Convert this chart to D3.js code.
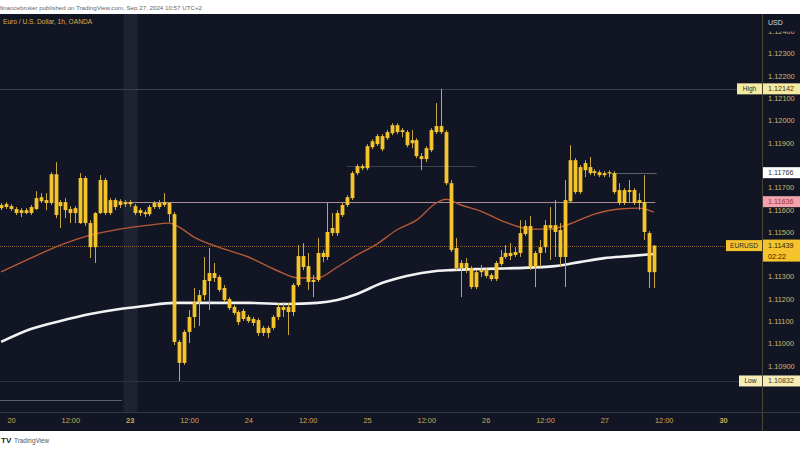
<!DOCTYPE html>
<html><head><meta charset="utf-8">
<script src="https://cdn.jsdelivr.net/npm/d3@7"></script>
<style>body{margin:0;background:#fff;overflow:hidden}svg{display:block;font-family:"Liberation Sans","DejaVu Sans",sans-serif}</style>
</head><body><svg id="c" width="800" height="450"></svg>
<script>
// ---- DATA (EUR/USD 1h, OANDA) ----
const firstBar = -2; // bar index relative to Sep 20 00:00
const opens = [1.11621,1.11612,1.11616,1.11603,1.11585,1.11598,1.11585,1.11603,1.11638,1.11643,1.11630,1.11759,1.11616,1.11634,1.11603,1.11585,1.11540,1.11742,1.11540,1.11432,1.11585,1.11733,1.11585,1.11643,1.11621,1.11634,1.11625,1.11616,1.11585,1.11589,1.11580,1.11612,1.11630,1.11621,1.11630,1.11580,1.11007,1.10913,1.11052,1.11119,1.11186,1.11217,1.11280,1.11316,1.11298,1.11249,1.11199,1.11164,1.11141,1.11110,1.11119,1.11110,1.11105,1.11047,1.11070,1.11070,1.11119,1.11164,1.11141,1.11141,1.11262,1.11392,1.11347,1.11276,1.11285,1.11406,1.11388,1.11495,1.11495,1.11576,1.11621,1.11652,1.11764,1.11795,1.11786,1.11880,1.11894,1.11930,1.11921,1.11943,1.11979,1.11948,1.11948,1.11898,1.11912,1.11840,1.11827,1.11867,1.11948,1.11975,1.11948,1.11719,1.11428,1.11338,1.11361,1.11338,1.11253,1.11320,1.11329,1.11307,1.11289,1.11356,1.11388,1.11392,1.11397,1.11406,1.11491,1.11527,1.11343,1.11406,1.11432,1.11531,1.11500,1.11509,1.11388,1.11638,1.11822,1.11679,1.11777,1.11791,1.11764,1.11768,1.11755,1.11764,1.11764,1.11688,1.11630,1.11688,1.11688,1.11630,1.11634,1.11495,1.11320];
const highs = [1.11630,1.11634,1.11625,1.11612,1.11607,1.11607,1.11621,1.11683,1.11674,1.11674,1.11768,1.11813,1.11643,1.11652,1.11616,1.11616,1.11764,1.11751,1.11553,1.11589,1.11755,1.11742,1.11652,1.11652,1.11647,1.11643,1.11643,1.11625,1.11607,1.11598,1.11621,1.11638,1.11643,1.11674,1.11634,1.11589,1.11016,1.11061,1.11150,1.11249,1.11240,1.11388,1.11428,1.11361,1.11307,1.11262,1.11208,1.11173,1.11150,1.11155,1.11128,1.11119,1.11114,1.11079,1.11079,1.11128,1.11182,1.11186,1.11182,1.11271,1.11441,1.11450,1.11406,1.11307,1.11473,1.11419,1.11630,1.11585,1.11598,1.11630,1.11665,1.11773,1.11804,1.11804,1.11894,1.11916,1.11939,1.11939,1.11957,1.11988,1.11988,1.11966,1.11957,1.11957,1.11921,1.11854,1.11885,1.11966,1.12078,1.12142,1.11957,1.11733,1.11473,1.11374,1.11383,1.11347,1.11329,1.11352,1.11338,1.11316,1.11370,1.11419,1.11441,1.11450,1.11432,1.11553,1.11553,1.11571,1.11415,1.11464,1.11553,1.11612,1.11643,1.11540,1.11733,1.11889,1.11831,1.11800,1.11822,1.11836,1.11782,1.11777,1.11773,1.11777,1.11773,1.11719,1.11697,1.11733,1.11697,1.11674,1.11755,1.11504,1.11441];
const lows = [1.11598,1.11603,1.11594,1.11576,1.11567,1.11580,1.11576,1.11598,1.11630,1.11598,1.11621,1.11562,1.11518,1.11562,1.11540,1.11540,1.11536,1.11527,1.11383,1.11361,1.11580,1.11576,1.11576,1.11598,1.11607,1.11612,1.11612,1.11576,1.11571,1.11567,1.11571,1.11603,1.11603,1.11612,1.11544,1.10993,1.10832,1.10904,1.11002,1.11070,1.11079,1.11195,1.11150,1.11276,1.11231,1.11186,1.11150,1.11128,1.11083,1.11101,1.11092,1.11079,1.11034,1.11034,1.11025,1.11061,1.11105,1.11119,1.11038,1.11123,1.11253,1.11329,1.11240,1.11208,1.11276,1.11365,1.11374,1.11482,1.11482,1.11567,1.11612,1.11643,1.11755,1.11777,1.11777,1.11871,1.11885,1.11862,1.11912,1.11934,1.11939,1.11925,1.11880,1.11876,1.11831,1.11777,1.11813,1.11858,1.11939,1.11939,1.11710,1.11410,1.11329,1.11208,1.11316,1.11244,1.11244,1.11298,1.11294,1.11280,1.11280,1.11347,1.11379,1.11374,1.11388,1.11388,1.11482,1.11329,1.11253,1.11343,1.11406,1.11374,1.11388,1.11343,1.11253,1.11630,1.11670,1.11670,1.11746,1.11755,1.11751,1.11746,1.11746,1.11746,1.11670,1.11621,1.11621,1.11630,1.11621,1.11598,1.11464,1.11249,1.11249];
const closes = [1.11607,1.11625,1.11603,1.11585,1.11598,1.11585,1.11612,1.11652,1.11656,1.11630,1.11759,1.11576,1.11634,1.11598,1.11585,1.11607,1.11742,1.11540,1.11432,1.11585,1.11733,1.11585,1.11643,1.11612,1.11638,1.11625,1.11634,1.11585,1.11598,1.11580,1.11612,1.11630,1.11612,1.11634,1.11580,1.11007,1.10913,1.11052,1.11119,1.11186,1.11217,1.11285,1.11316,1.11294,1.11240,1.11195,1.11159,1.11137,1.11096,1.11146,1.11101,1.11092,1.11047,1.11070,1.11047,1.11119,1.11164,1.11150,1.11164,1.11262,1.11392,1.11343,1.11276,1.11285,1.11406,1.11388,1.11500,1.11518,1.11585,1.11621,1.11656,1.11764,1.11795,1.11786,1.11885,1.11907,1.11930,1.11871,1.11948,1.11979,1.11948,1.11957,1.11889,1.11912,1.11840,1.11827,1.11876,1.11957,1.11975,1.11948,1.11719,1.11419,1.11338,1.11361,1.11338,1.11253,1.11320,1.11329,1.11303,1.11289,1.11361,1.11388,1.11406,1.11406,1.11410,1.11495,1.11527,1.11343,1.11406,1.11432,1.11531,1.11518,1.11531,1.11388,1.11643,1.11822,1.11679,1.11791,1.11809,1.11764,1.11773,1.11755,1.11764,1.11768,1.11679,1.11630,1.11688,1.11679,1.11630,1.11643,1.11500,1.11320,1.11439];

// slow moving average (white), sampled at bar indices
const maSlowBars = [-2,4,10,16,22,27,33,40,48,56,62,66,70,75,80,86,89,95,102,110,115,120,125,130];
const maSlow = [1.11007,1.11065,1.11101,1.11132,1.11155,1.11168,1.11182,1.11182,1.11182,1.11177,1.11182,1.11195,1.11222,1.11271,1.11303,1.11325,1.11329,1.11334,1.11338,1.11347,1.11365,1.11383,1.11392,1.11401];
// fast moving average (orange)
const maFastBars = [-2,4,10,16,22,28,32,34,37,42,48,54,58,62,66,70,74,78,82,86,88,91,95,100,105,109,113,118,123,127,130];
const maFast = [1.11321,1.11383,1.11441,1.11486,1.11513,1.11531,1.11540,1.11522,1.11477,1.11432,1.11388,1.11325,1.11294,1.11294,1.11343,1.11397,1.11446,1.11509,1.11553,1.11630,1.11647,1.11621,1.11594,1.11544,1.11513,1.11513,1.11536,1.11580,1.11603,1.11607,1.11589];

const timeTicks = [0,12,24,36,48,60,72,84,96,108,120,132,144];
const timeLabels = ["20","12:00","23","12:00","24","12:00","25","12:00","26","12:00","27","12:00","30"];
const boldLabels = ["23","30"];
// price scale labels visible next to the tags
const priceTicks = [1.109,1.110,1.111,1.112,1.113,1.115,1.116,1.117,1.119,1.120,1.121,1.122,1.123,1.124];

const lastPrice = 1.11439, highPrice = 1.12142, lowPrice = 1.10832;
const levelWhite = 1.11766, levelPink = 1.11636, levelGray = 1.11795, levelBase = 1.10747;

// ---- DRAW ----
const svg = d3.select("#c");
const PL = 0, PR = 762, PT = 14, PB = 412;
const x = d3.scaleLinear().domain([0,144]).range([11,723]);
const y = d3.scaleLinear().domain([1.115,1.123]).range([232,53.6]);
const bg = "#121624";

svg.append("rect").attr("width",800).attr("height",450).attr("fill","#fff");
svg.append("text").attr("x",0).attr("y",9.5).attr("font-size",6.2).attr("fill","#666")
  .text("financebroker published on TradingView.com, Sep 27, 2024 10:57 UTC+2");
svg.append("rect").attr("x",0).attr("y",PT).attr("width",800).attr("height",431-PT).attr("fill",bg);

const defs = svg.append("defs");
defs.append("clipPath").attr("id","pc").append("rect").attr("x",PL).attr("y",PT).attr("width",PR-PL).attr("height",PB-PT);
const g = svg.append("g").attr("clip-path","url(#pc)");

// highlighted column
g.append("rect").attr("x",x(22.75)).attr("y",PT).attr("width",x(25.6)-x(22.75)).attr("height",PB-PT).attr("fill","#1e2332");

// horizontal levels
const hl = (p, i0, i1, col, w, dash, op) => g.append("line")
  .attr("x1", i0===null?PL:x(i0)).attr("x2", i1===null?PR:x(i1))
  .attr("y1", Math.round(y(p))+0.5).attr("y2", Math.round(y(p))+0.5)
  .attr("stroke",col).attr("stroke-width",w).attr("stroke-dasharray",dash||null).attr("opacity",op||1);
hl(highPrice, null, null, "#3b404d", 1);
hl(lowPrice, null, null, "#2c313d", 1);
hl(levelBase, -3, 22.4, "#5d616c", 1);
hl(levelGray, 68, 94, "#3e4350", 1);
hl(lastPrice, null, null, "#a5702c", 1, "1,1", 0.8);
hl(levelPink, 23.5, 130.3, "#a88d95", 1);
hl(levelWhite, 121, 130.6, "#5d616c", 1);

// moving averages
const line = d3.line().x(d=>x(d[0])).y(d=>y(d[1])).curve(d3.curveMonotoneX);
g.append("path").attr("d", line(maFastBars.map((b,i)=>[b,maFast[i]])))
  .attr("fill","none").attr("stroke","#b55a35").attr("stroke-width",1.4);
g.append("path").attr("d", line(maSlowBars.map((b,i)=>[b,maSlow[i]])))
  .attr("fill","none").attr("stroke","#f2f2f2").attr("stroke-width",2.6);

// candles
const candles = opens.map((o,i)=>({i:firstBar+i,o,h:highs[i],l:lows[i],c:closes[i]}));
const cg = g.append("g");
cg.selectAll("line.w").data(candles).join("line").attr("class","w")
  .attr("x1",d=>Math.round(x(d.i))+0.5).attr("x2",d=>Math.round(x(d.i))+0.5)
  .attr("y1",d=>y(d.h)).attr("y2",d=>y(d.l)).attr("stroke","#c7a640").attr("stroke-width",1);
cg.selectAll("rect.b").data(candles).join("rect").attr("class","b")
  .attr("x",d=>Math.round(x(d.i))+0.5-1.9).attr("width",3.8)
  .attr("y",d=>y(Math.max(d.o,d.c)))
  .attr("height",d=>Math.max(1.2, y(Math.min(d.o,d.c))-y(Math.max(d.o,d.c))))
  .attr("fill","#f5c42c");

// title
svg.append("text").attr("x",3).attr("y",24).attr("font-size",6.6).attr("fill","#d8b04a")
  .text("Euro / U.S. Dollar, 1h, OANDA");

// axes frame
svg.append("line").attr("x1",PR+0.5).attr("x2",PR+0.5).attr("y1",PT).attr("y2",431).attr("stroke","#4a4538");
svg.append("line").attr("x1",0).attr("x2",800).attr("y1",PB+0.5).attr("y2",PB+0.5).attr("stroke","#343845");

// price axis
const ya = svg.append("g").attr("transform",`translate(${PR},0)`)
  .call(d3.axisRight(y).tickValues(priceTicks).tickFormat(d3.format(".5f")).tickSize(0).tickPadding(6));
ya.select(".domain").remove();
ya.selectAll("text").attr("font-size",7.4).attr("fill","#d0b66c").attr("font-family","Liberation Sans, sans-serif");
// USD header
svg.append("rect").attr("x",PR+1).attr("y",PT).attr("width",800-PR-1).attr("height",17.5).attr("fill",bg);
svg.append("text").attr("x",768).attr("y",24.5).attr("font-size",7).attr("fill","#d9d9d9").text("USD");

// time axis
const xa = svg.append("g").attr("transform",`translate(0,${PB})`)
  .call(d3.axisBottom(x).tickValues(timeTicks).tickFormat((d,i)=>timeLabels[i]).tickSize(0).tickPadding(6));
xa.select(".domain").remove();
xa.selectAll("text").attr("font-size",7.4).attr("fill","#cca854")
  .attr("font-weight",(d,i)=>boldLabels.includes(timeLabels[i])?"bold":"normal");

// price labels
function tag(p, txt, bgc, fg, name, nameBg, nameW, extra){
  const cy = y(p);
  const h = extra?22:11, top = extra? cy-6 : cy-5.5;
  if(name){
    svg.append("rect").attr("x",PR-nameW).attr("y",cy-5.5).attr("width",nameW).attr("height",11).attr("fill",nameBg);
    svg.append("text").attr("x",PR-nameW/2).attr("y",cy+2.5).attr("text-anchor","middle").attr("font-size",6.6).attr("fill","#2a2a2a").text(name);
  }
  svg.append("rect").attr("x",PR+1).attr("y",top).attr("width",800-PR-1).attr("height",h).attr("fill",bgc);
  svg.append("text").attr("x",768).attr("y",cy+2.5).attr("font-size",7.2).attr("fill",fg).text(txt);
  if(extra) svg.append("text").attr("x",768).attr("y",cy+13).attr("font-size",7.2).attr("fill",fg).text(extra);
}
tag(highPrice, "1.12142", "#f4eaa2", "#3a3520", "High", "#f4eaa2", 25);
tag(levelWhite, "1.11766", "#ffffff", "#333", null);
tag(levelPink, "1.11636", "#f2a3ab", "#9a2f3c", null);
tag(lastPrice, "1.11439", "#f5c42c", "#2a2000", "EURUSD", "#f5c42c", 36, "02:22");
tag(lowPrice, "1.10832", "#f5edb5", "#3a3520", "Low", "#f5edb5", 23);

// footer
svg.append("text").attr("x",1).attr("y",443).attr("font-size",8).attr("font-weight","bold").attr("fill","#222").text("TV");
svg.append("text").attr("x",14).attr("y",443).attr("font-size",6.4).attr("fill","#555").text("TradingView");
</script></body></html>
